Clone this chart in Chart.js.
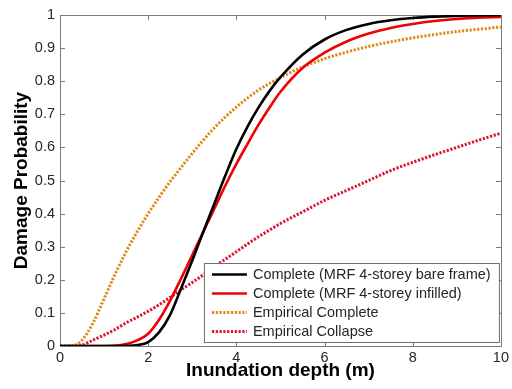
<!DOCTYPE html>
<html>
<head>
<meta charset="utf-8">
<script src="https://cdn.jsdelivr.net/npm/chart.js@4.4.1/dist/chart.umd.min.js"></script>
<style>
  html, body { margin: 0; padding: 0; background: #fff; }
  #wrap { width: 512px; height: 389px; position: relative; }
</style>
</head>
<body>
<div id="wrap"><canvas id="fragility"></canvas></div>
<script>
// ── data ───────────────────────────────────────────────────────────────────
const depths = [0, 0.25, 0.5, 0.75, 1, 1.25, 1.5, 1.75, 2, 2.25, 2.5, 2.75, 3, 3.25, 3.5, 3.75,
                4, 4.25, 4.5, 4.75, 5, 5.5, 6, 6.5, 7, 7.5, 8, 8.5, 9, 9.5, 10];

const bareFrame = [0, 0, 0, 0, 0, 0, 0.0005, 0.003, 0.012, 0.042, 0.095, 0.175, 0.258, 0.345, 0.43, 0.515,
                   0.595, 0.662, 0.72, 0.77, 0.812, 0.88, 0.926, 0.955, 0.973, 0.984, 0.991, 0.995, 0.997, 0.999, 1.0];

const infilled  = [0, 0, 0, 0, 0, 0.001, 0.006, 0.017, 0.037, 0.08, 0.138, 0.205, 0.275, 0.345, 0.415, 0.485,
                   0.55, 0.61, 0.668, 0.72, 0.768, 0.84, 0.886, 0.92, 0.944, 0.961, 0.973, 0.982, 0.988, 0.992, 0.994];

const empComplete = [0, 0, 0.018, 0.07, 0.143, 0.217, 0.285, 0.345, 0.4, 0.45, 0.497, 0.54, 0.582, 0.622, 0.659, 0.692,
                     0.722, 0.749, 0.773, 0.793, 0.811, 0.843, 0.868, 0.888, 0.905, 0.919, 0.931, 0.941, 0.95, 0.957, 0.964];

const empCollapse = [0, 0, 0.003, 0.018, 0.033, 0.05, 0.07, 0.087, 0.105, 0.125, 0.147, 0.17, 0.192, 0.215, 0.24, 0.262,
                     0.285, 0.308, 0.33, 0.35, 0.37, 0.405, 0.44, 0.47, 0.5, 0.53, 0.555, 0.578, 0.6, 0.622, 0.643];

const seriesLabels = [
  'Complete (MRF 4-storey bare frame)',
  'Complete (MRF 4-storey infilled)',
  'Empirical Complete',
  'Empirical Collapse',
];

const xTicks = [0, 2, 4, 6, 8, 10];

// ── style ──────────────────────────────────────────────────────────────────
const FONT = "'Liberation Sans', Arial, sans-serif";
const AXIS = '#7a7a7a';
const TEXT = '#262626';
const TICK = 5;

Chart.defaults.font.family = FONT;
Chart.defaults.color = TEXT;

const pts = ys => depths.map((d, i) => ({ x: d, y: ys[i] }));

function lineDS(label, ys, color, width, dash) {
  return {
    label, data: pts(ys), borderColor: color, borderWidth: width, borderDash: dash || [],
    pointRadius: 0, cubicInterpolationMode: 'monotone', fill: false, borderCapStyle: 'butt',
  };
}

// box + inward ticks on all four sides (matlab look)
const axesBox = {
  id: 'axesBox',
  beforeDatasetsDraw(chart) {
    const { ctx, chartArea: a, scales: { x, y } } = chart;
    ctx.save();
    ctx.strokeStyle = AXIS;
    ctx.lineWidth = 1;
    ctx.beginPath();
    xTicks.forEach(v => {
      const px = Math.round(x.getPixelForValue(v)) + 0.5;
      ctx.moveTo(px, a.bottom); ctx.lineTo(px, a.bottom - TICK);
      ctx.moveTo(px, a.top);    ctx.lineTo(px, a.top + TICK);
    });
    y.ticks.forEach(t => {
      const py = Math.round(y.getPixelForValue(t.value)) + 0.5;
      ctx.moveTo(a.left, py);  ctx.lineTo(a.left + TICK, py);
      ctx.moveTo(a.right, py); ctx.lineTo(a.right - TICK, py);
    });
    ctx.stroke();
    ctx.strokeRect(Math.round(a.left) + 0.5, Math.round(a.top) + 0.5,
                   Math.round(a.right - a.left), Math.round(a.bottom - a.top));
    ctx.restore();
  },
};

// legend box inside the axes, lower right
const insideLegend = {
  id: 'insideLegend',
  afterDatasetsDraw(chart) {
    const { ctx, chartArea: a } = chart;
    const w = 295, h = 79;
    const left = a.right - 2 - w, top = a.bottom - 4 - h;
    ctx.save();
    ctx.fillStyle = '#fff';
    ctx.fillRect(left, top, w, h);
    ctx.strokeStyle = '#6e6e6e';
    ctx.lineWidth = 1;
    ctx.strokeRect(left + 0.5, top + 0.5, w, h);
    ctx.font = `14.5px ${FONT}`;
    ctx.textBaseline = 'middle';
    chart.data.datasets.forEach((ds, i) => {
      const cy = top + 11.5 + i * 19;
      ctx.beginPath();
      ctx.strokeStyle = ds.borderColor;
      ctx.lineWidth = ds.borderWidth;
      ctx.setLineDash(ds.borderDash);
      ctx.moveTo(left + 8, cy);
      ctx.lineTo(left + 43, cy);
      ctx.stroke();
      ctx.setLineDash([]);
      ctx.fillStyle = TEXT;
      ctx.fillText(ds.label, left + 49, cy + 0.5);
    });
    ctx.restore();
  },
};

new Chart(document.getElementById('fragility'), {
  type: 'line',
  data: {
    datasets: [
      lineDS(seriesLabels[0], bareFrame,   '#000000', 2.6),
      lineDS(seriesLabels[1], infilled,    '#f00000', 2.6),
      lineDS(seriesLabels[2], empComplete, '#dc8a1c', 3, [2.2, 1.6]),
      lineDS(seriesLabels[3], empCollapse, '#dc1434', 3, [2.2, 1.6]),
    ],
  },
  options: {
    responsive: true,
    maintainAspectRatio: false,
    animation: false,
    layout: { padding: { left: 0, right: 5, top: 15, bottom: 0 } },
    plugins: { legend: { display: false }, tooltip: { enabled: false } },
    scales: {
      x: {
        type: 'linear', min: 0, max: 10,
        afterBuildTicks: s => { s.ticks = xTicks.map(v => ({ value: v })); },
        afterFit: s => { s.height = 43; },
        grid: { display: false, drawTicks: false },
        border: { display: false },
        ticks: { color: TEXT, font: { size: 14.5 }, padding: 3, maxRotation: 0 },
        title: { display: true, text: 'Inundation depth (m)', color: '#000',
                 font: { size: 19, weight: 'bold' }, padding: { top: 0, bottom: 7 } },
      },
      y: {
        min: 0, max: 1,
        afterFit: s => { s.width = 60; },
        grid: { display: false, drawTicks: false },
        border: { display: false },
        ticks: { stepSize: 0.1, color: TEXT, font: { size: 14.5 }, padding: 5,
                 callback: v => String(Math.round(v * 10) / 10) },
        title: { display: true, text: 'Damage Probability', color: '#000',
                 font: { size: 19, weight: 'bold' }, padding: { top: 10, bottom: 0 } },
      },
    },
  },
  plugins: [axesBox, insideLegend],
});
</script>
</body>
</html>
